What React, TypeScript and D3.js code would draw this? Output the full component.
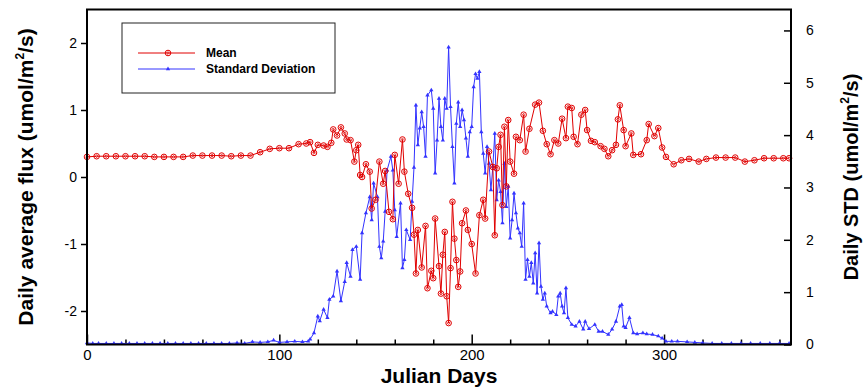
import * as d3 from "d3";
import React, { useRef, useEffect } from "react";

// Daily mean flux (umol/m2/s)
const meanDays = [
  0, 5, 10, 15, 20, 25, 30, 35, 40, 45, 50, 55, 60, 65, 70, 75, 80, 85, 90, 95,
  100, 105, 110, 114, 116, 118, 120, 123, 125, 127, 128, 130, 132, 134, 135, 137,
  139, 140, 141, 142, 143, 145, 147, 148, 150, 152, 154, 155, 157, 159, 160, 162,
  164, 165, 167, 169, 170, 171, 172, 174, 176, 177, 179, 180, 181, 183, 184, 185,
  186, 187, 188, 189, 190, 191, 192, 193, 194, 195, 197, 198, 200, 202, 204, 206,
  207, 209, 211, 212, 213, 214, 215, 216, 217, 218, 219, 220, 222, 223, 225, 227,
  228, 230, 233, 235, 237, 239, 241, 243, 245, 247, 249, 250, 252, 253, 255, 257,
  259, 260, 262, 264, 267, 269, 271, 273, 275, 276, 277, 279, 280, 283, 284, 288,
  291, 292, 295, 297, 299, 301, 305, 309, 313, 318, 322, 327, 332, 337, 342, 347,
  352, 357, 362, 365,
];
const meanFlux = [
  0.3, 0.31, 0.31, 0.31, 0.31, 0.31, 0.31, 0.3, 0.3, 0.3, 0.3, 0.32, 0.32, 0.32, 0.32, 0.31, 0.32, 0.32, 0.37, 0.42,
  0.43, 0.43, 0.49, 0.5, 0.52, 0.36, 0.48, 0.47, 0.45, 0.51, 0.71, 0.62, 0.74, 0.65, 0.56, 0.55,
  0.23, 0.4, 0.48, 0.03, 0.0, 0.19, 0.08, -0.47, -0.34, 0.23, -0.1, 0.09, -0.52, -0.63, 0.33, -0.1,
  0.56, 0.08, -0.25, -0.46, -0.86, -1.44, -0.79, -1.35, -0.73, -1.66, -1.4, -1.51, -0.62, -1.33, -1.74, -1.16,
  -0.82, -1.78, -2.18, -1.36, -0.37, -0.92, -1.24, -1.64, -1.41, -0.69, -0.5, -0.79, -1.0, -1.44, -0.57, -0.34,
  -0.62, 0.38, 0.15, -0.87, 0.13, 0.45, 0.63, -0.42, 0.75, -0.14, 0.85, 0.23, 0.05, 0.6, 0.55, 0.93,
  0.38, 0.72, 1.08, 1.11, 0.69, 0.49, 0.34, 0.55, 0.5, 0.87, 0.58, 1.05, 1.03, 0.6, 0.49, 0.93,
  1.0, 0.7, 0.54, 0.52, 0.46, 0.42, 0.31, 0.4, 0.48, 0.86, 1.07, 0.7, 0.46, 0.65, 0.33, 0.34,
  0.55, 0.79, 0.61, 0.73, 0.44, 0.3, 0.19, 0.25, 0.27, 0.23, 0.27, 0.29, 0.29, 0.29, 0.23, 0.25,
  0.28, 0.28, 0.28, 0.28,
];

// Daily standard deviation (umol/m2/s)
const stdDays = [
  0, 3, 6, 10, 14, 18, 22, 26, 30, 34, 38, 42, 46, 50, 54, 58, 62, 66, 70, 74,
  78, 82, 86, 90, 94, 97, 100, 104, 108, 112, 115, 116, 118, 120, 121, 123, 125, 126,
  128, 130, 132, 134, 135, 137, 138, 140, 142, 143, 145, 147, 148, 149, 151, 152, 153,
  154, 155, 156, 158, 159, 160, 161, 163, 164, 165, 166, 168, 169, 170, 171, 172, 173,
  174, 175, 176, 177, 179, 180, 181, 182, 183, 184, 185, 186, 187, 188, 189, 190, 191,
  192, 193, 194, 195, 196, 197, 198, 199, 200, 201, 202, 203, 204, 205, 206, 207, 208,
  209, 210, 211, 212, 213, 214, 215, 216, 217, 218, 219, 220, 221, 222, 223, 224, 225,
  226, 227, 228, 229, 230, 231, 232, 233, 234, 235, 236, 237, 238, 239, 241, 242, 244,
  245, 246, 247, 248, 249, 250, 252, 254, 256, 258, 259, 261, 264, 266, 268, 271, 273,
  275, 277, 278, 279, 280, 282, 284, 286, 289, 291, 294, 297, 299, 301, 304, 307, 312,
  316, 320, 325, 330, 335, 340, 345, 350, 355, 360, 365,
];
const stdFlux = [
  0.03, 0.02, 0.02, 0.02, 0.02, 0.02, 0.02, 0.02, 0.02, 0.02, 0.02, 0.02, 0.02, 0.02, 0.02, 0.02, 0.02, 0.02, 0.02, 0.02,
  0.03, 0.02, 0.05, 0.04, 0.05, 0.08, 0.04, 0.05, 0.06, 0.05, 0.06, 0.1, 0.22, 0.54, 0.45, 0.67, 0.51, 0.86,
  0.92, 1.4, 0.83, 1.2, 1.56, 1.3, 1.81, 1.87, 1.24, 2.13, 2.51, 2.82, 2.38, 3.08, 2.82, 1.87, 1.65,
  1.97, 2.54, 3.33, 3.59, 3.33, 2.57, 2.06, 2.7, 1.46, 1.62, 2.19, 2.0, 2.73, 3.38, 4.57, 3.81, 4.13,
  4.44, 4.16, 3.59, 4.76, 4.86, 4.51, 3.27, 3.9, 4.7, 4.16, 3.9, 4.7, 4.51, 5.68, 4.54, 3.78, 3.08,
  4.22, 4.63, 4.16, 4.48, 4.29, 3.94, 3.59, 4.06, 4.16, 4.92, 5.17, 5.08, 5.21, 4.06, 3.65, 3.27, 3.78,
  3.46, 2.95, 3.4, 4.03, 2.76, 3.14, 2.92, 2.32, 3.46, 2.63, 3.02, 2.03, 2.38, 2.89, 2.51, 2.22, 2.13,
  1.87, 2.7, 1.24, 1.62, 1.3, 1.56, 1.17, 1.75, 0.98, 1.94, 1.11, 0.86, 0.98, 0.73, 0.6, 0.63, 0.57,
  0.92, 0.98, 0.73, 0.6, 1.08, 0.51, 0.38, 0.35, 0.44, 0.29, 0.44, 0.3, 0.38, 0.25, 0.25, 0.19, 0.29,
  0.44, 0.73, 0.76, 0.35, 0.32, 0.51, 0.22, 0.2, 0.22, 0.2, 0.19, 0.16, 0.12, 0.06, 0.06, 0.06, 0.05,
  0.04, 0.03, 0.02, 0.02, 0.02, 0.02, 0.02, 0.02, 0.02, 0.02, 0.02,
];

const dayTicks = [0, 100, 200, 300];
const dayMinorTicks = [20, 40, 60, 80, 120, 140, 160, 180, 220, 240, 260, 280, 320, 340, 360];
const fluxTicks = [-2, -1, 0, 1, 2];
const stdTicks = [0, 1, 2, 3, 4, 5, 6];
const seriesNames = ["Mean", "Standard Deviation"];

const WIDTH = 865;
const HEIGHT = 388;
const FONT = "Arial, 'Liberation Sans', Helvetica, sans-serif";
const RED = "#e00000";
const BLUE = "#3333ff";

function FluxChart() {
  const svgRef = useRef<SVGSVGElement>(null);

  useEffect(() => {
    if (!svgRef.current) return;
    const svg = d3.select(svgRef.current);
    svg.selectAll("*").remove();

    const left = 87, right = 791, top = 9.5, bottom = 344.5;
    const x = d3.scaleLinear([0, 366], [left, right]);
    const yFlux = d3.scaleLinear([-2.5, 2.5], [bottom, top]);
    const yStd = d3.scaleLinear([0, 6.4], [bottom, top]);

    svg.append("rect").attr("width", WIDTH).attr("height", HEIGHT).attr("fill", "#fff");

    // Axes
    const styleAxis = (g: any, size: number) => {
      g.select(".domain").remove();
      g.selectAll("line").attr("stroke", "#000").attr("stroke-width", 1.5);
      g.selectAll("text")
        .attr("fill", "#000")
        .attr("font-family", FONT)
        .attr("font-size", size);
    };

    svg.append("g")
      .attr("transform", `translate(${left},0)`)
      .call(d3.axisLeft(yFlux).tickValues(fluxTicks).tickSize(6).tickPadding(4).tickFormat((d) => String(d)))
      .call((g) => styleAxis(g, 14));

    svg.append("g")
      .attr("transform", `translate(${right},0)`)
      .call(d3.axisRight(yStd).tickValues(stdTicks).tickSize(-7).tickPadding(15).tickFormat((d) => String(d)))
      .call((g) => styleAxis(g, 14));

    svg.append("g")
      .attr("transform", `translate(0,${bottom})`)
      .call(d3.axisBottom(x).tickValues(dayTicks).tickSize(-10).tickPadding(5).tickFormat((d) => String(d)))
      .call((g) => styleAxis(g, 15));

    svg.append("g")
      .attr("transform", `translate(0,${bottom})`)
      .call(d3.axisBottom(x).tickValues(dayMinorTicks).tickSize(-5).tickFormat(() => ""))
      .call((g) => styleAxis(g, 14));

    // Series
    const meanPts = meanDays.map((d, i) => [d, meanFlux[i]] as [number, number]);
    const stdPts = stdDays.map((d, i) => [d, stdFlux[i]] as [number, number]);

    svg.append("path")
      .attr("d", d3.line<[number, number]>().x((d) => x(d[0])).y((d) => yStd(d[1]))(stdPts))
      .attr("fill", "none")
      .attr("stroke", BLUE)
      .attr("stroke-width", 1);

    const tri = d3.symbol(d3.symbolTriangle, 8)();
    svg.append("g")
      .selectAll("path")
      .data(stdPts)
      .join("path")
      .attr("d", tri)
      .attr("transform", (d) => `translate(${x(d[0])},${yStd(d[1])})`)
      .attr("fill", BLUE);

    svg.append("path")
      .attr("d", d3.line<[number, number]>().x((d) => x(d[0])).y((d) => yFlux(d[1]))(meanPts))
      .attr("fill", "none")
      .attr("stroke", RED)
      .attr("stroke-width", 1);

    const drawCircleMarker = (g: any, cx: number, cy: number) => {
      g.append("circle")
        .attr("cx", cx).attr("cy", cy).attr("r", 2.8)
        .attr("fill", "none").attr("stroke", RED).attr("stroke-width", 1);
      g.append("path")
        .attr("d", `M${cx},${cy - 1.4}L${cx + 1.4},${cy}L${cx},${cy + 1.4}L${cx - 1.4},${cy}Z`)
        .attr("fill", "none").attr("stroke", RED).attr("stroke-width", 0.8);
    };
    const markers = svg.append("g");
    meanPts.forEach((d) => drawCircleMarker(markers, x(d[0]), yFlux(d[1])));

    // Frame
    svg.append("rect")
      .attr("x", left).attr("y", top)
      .attr("width", right - left).attr("height", bottom - top)
      .attr("fill", "none").attr("stroke", "#000").attr("stroke-width", 2);

    // Legend
    const lg = svg.append("g");
    lg.append("rect")
      .attr("x", 122).attr("y", 23).attr("width", 213).attr("height", 70)
      .attr("fill", "#fff").attr("stroke", "#222").attr("stroke-width", 1);
    lg.append("line").attr("x1", 138).attr("x2", 195).attr("y1", 53).attr("y2", 53)
      .attr("stroke", RED).attr("stroke-width", 1);
    drawCircleMarker(lg, 168, 53);
    lg.append("line").attr("x1", 138).attr("x2", 195).attr("y1", 69).attr("y2", 69)
      .attr("stroke", BLUE).attr("stroke-width", 1);
    lg.append("path").attr("d", tri).attr("transform", "translate(168,69)").attr("fill", BLUE);
    seriesNames.forEach((name, i) => {
      lg.append("text")
        .attr("x", 206).attr("y", 57 + i * 16)
        .attr("font-family", FONT).attr("font-size", 12).attr("font-weight", "bold")
        .text(name);
    });

    // Titles
    const title = (tx: number, ty: number, rotate: boolean, size: number, main: string, tail?: string) => {
      const t = svg.append("text")
        .attr("transform", `translate(${tx},${ty})${rotate ? " rotate(-90)" : ""}`)
        .attr("text-anchor", "middle")
        .attr("font-family", FONT).attr("font-size", size).attr("font-weight", "bold")
        .attr("fill", "#000");
      t.append("tspan").text(main);
      if (tail !== undefined) {
        t.append("tspan").attr("font-size", 12).attr("dy", -9).text("2");
        t.append("tspan").attr("dy", 9).text(tail);
      }
    };
    title(33, 177, true, 21, "Daily average flux (umol/m", "/s)");
    title(858, 177, true, 20, "Daily STD (umol/m", "/s)");
    title(439, 383, false, 21, "Julian Days");
  }, []);

  return (
    <svg
      ref={svgRef}
      width={WIDTH}
      height={HEIGHT}
      style={{ position: "absolute", left: 0, top: 0, display: "block" }}
    />
  );
}

export default function App() {
  return <FluxChart />;
}
